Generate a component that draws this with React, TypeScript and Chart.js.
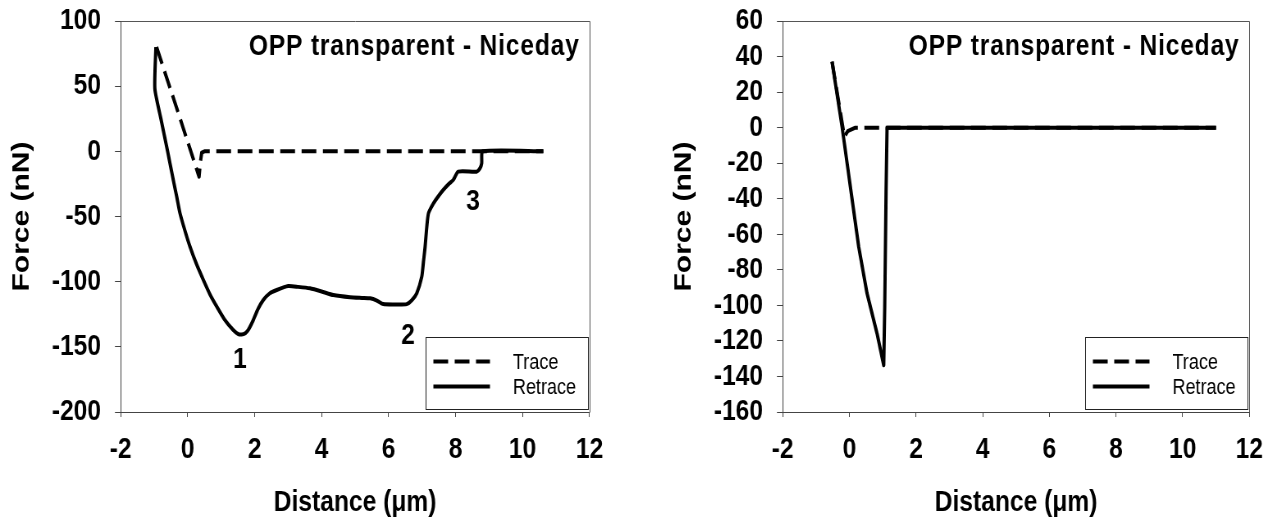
import { useEffect, useRef } from 'react';
import { Chart, registerables } from 'chart.js';

Chart.register(...registerables);

// The figure is laid out on a wider canvas and squeezed horizontally,
// which gives the narrow bold lettering of the printed plots.
const SQUEEZE = 0.82;
const FONT = "'Liberation Sans', Arial, Helvetica, sans-serif";
const HEIGHT = 521;

const PANEL_TITLE = 'OPP transparent - Niceday';
const X_TITLE = 'Distance (\u03bcm)';
const Y_TITLE = 'Force (nN)';
const SERIES_LABELS = ['Trace', 'Retrace'];

// Left panel: approach (trace) and retraction curves with three rupture events
const leftTraceX = [-0.93, -0.3, 0.34, 0.38, 0.42, 0.5, 10.62];
const leftTraceY = [80, 31, -19.5, -8, -1, 0, 0];

const leftRetraceX = [
  -0.95, -0.98, -0.8, -0.6, -0.43, -0.33, -0.23, -0.08, 0.07, 0.27, 0.47, 0.67, 0.87, 1.1,
  1.36, 1.5, 1.61, 1.72, 1.81, 1.95, 2.1, 2.26, 2.45, 2.66, 3.0, 3.3, 3.65, 4.0, 4.35, 4.85,
  5.2, 5.45, 5.65, 5.84, 6.2, 6.54, 6.7, 6.84, 6.99, 7.04, 7.09, 7.14, 7.19, 7.34, 7.5, 7.63,
  7.8, 7.93, 8.08, 8.63, 8.73, 8.78, 8.81, 10.62,
];
const leftRetraceY = [
  80, 48, 25, 0, -22, -34.5, -47.5, -61, -73.2, -87, -98.8, -110, -119.2, -129,
  -137.1, -140, -140.5, -139.5, -137, -130, -121, -114, -109, -106.4, -103.4, -104, -105.1, -107.5, -110.3, -112,
  -112.5, -112.8, -114.5, -117.2, -117.5, -117.2, -114, -109, -96.2, -85, -73.2, -58, -47.6, -39.9, -34, -29.7,
  -25, -22, -15.6, -15.6, -13, -9.2, 0, 0,
];

const leftNoteX = [1.56, 6.58, 8.52];
const leftNoteY = [-160, -141.7, -38.9];
const leftNoteText = ['1', '2', '3'];

const leftYTicks = { min: -200, max: 100, step: 50 };

// Right panel: single adhesion event
const rightTraceX = [-0.52, -0.15, -0.05, 0.18, 11.0];
const rightTraceY = [37.1, -5, -2, 0, 0];

const rightRetraceX = [-0.52, -0.22, 0.03, 0.28, 0.53, 0.83, 1.03, 1.06, 1.1, 1.13, 11.0];
const rightRetraceY = [37.1, 0.5, -33.3, -67.1, -93.3, -115.9, -133.7, -101, -36, 0, 0];

const rightYTicks = { min: -160, max: 60, step: 20 };

const xTicks = { min: -2, max: 12, step: 2 };

const zip = (xs: number[], ys: number[]) => xs.map((x, i) => ({ x, y: ys[i] }));

type Note = { x: number; y: number; text: string };

// Draws the plot frame, the panel caption, numbered event labels and the boxed legend.
const decorPlugin = {
  id: 'panelDecor',
  afterDatasetsDraw(chart: any, _args: any, opts: any) {
    const { ctx, chartArea: a, scales } = chart;
    ctx.save();

    // top and right edges of the plot frame
    ctx.strokeStyle = '#555';
    ctx.lineWidth = 1;
    ctx.beginPath();
    ctx.moveTo(Math.round(a.left) + 0.5, Math.round(a.top) + 0.5);
    ctx.lineTo(Math.round(a.right) + 0.5, Math.round(a.top) + 0.5);
    ctx.lineTo(Math.round(a.right) + 0.5, Math.round(a.bottom) + 0.5);
    ctx.stroke();

    // caption
    ctx.fillStyle = '#000';
    ctx.font = `bold 30px ${FONT}`;
    (ctx as any).letterSpacing = '1px';
    ctx.textAlign = 'right';
    ctx.textBaseline = 'middle';
    ctx.fillText(opts.title, a.right - 12, a.top + 25.5);
    (ctx as any).letterSpacing = '0px';

    // numbered events
    ctx.font = `bold 30px ${FONT}`;
    ctx.textAlign = 'center';
    (opts.notes as Note[]).forEach((n) => {
      ctx.fillText(n.text, scales.x.getPixelForValue(n.x), scales.y.getPixelForValue(n.y));
    });

    // legend
    const w = 198;
    const h = 72;
    const bx = Math.round(a.right - 2 - w) + 0.5;
    const by = Math.round(a.bottom - 3 - h) + 0.5;
    ctx.fillStyle = '#fff';
    ctx.fillRect(bx, by, w, h);
    ctx.strokeStyle = '#222';
    ctx.lineWidth = 1;
    ctx.strokeRect(bx, by, w, h);
    ctx.font = `22px ${FONT}`;
    ctx.textAlign = 'left';
    chart.data.datasets.forEach((ds: any, i: number) => {
      const ly = by + 24 + i * 25;
      ctx.strokeStyle = ds.borderColor;
      ctx.lineWidth = ds.borderWidth;
      ctx.lineCap = 'butt';
      ctx.setLineDash(ds.borderDash || []);
      ctx.beginPath();
      ctx.moveTo(bx + 9, ly);
      ctx.lineTo(bx + 78, ly);
      ctx.stroke();
      ctx.setLineDash([]);
      ctx.fillStyle = '#000';
      ctx.fillText(ds.label, bx + 106, ly + 1);
    });

    ctx.restore();
  },
};

type PanelProps = {
  left: number;
  width: number;
  plotRight: number;
  traceX: number[];
  traceY: number[];
  retraceX: number[];
  retraceY: number[];
  yTicks: { min: number; max: number; step: number };
  notes: Note[];
  smooth: number;
};

function Panel(p: PanelProps) {
  const ref = useRef<HTMLCanvasElement>(null);

  useEffect(() => {
    const canvas = ref.current;
    if (!canvas) return;
    const axisGrid = (len: number) => ({
      drawOnChartArea: false,
      drawTicks: true,
      tickLength: len,
      color: '#444',
      lineWidth: 1,
    });
    const chart = new Chart(canvas, {
      type: 'scatter',
      data: {
        datasets: [
          {
            label: SERIES_LABELS[0],
            data: zip(p.traceX, p.traceY),
            showLine: true,
            borderColor: '#000',
            borderWidth: 4,
            borderDash: [18, 8],
            borderCapStyle: 'butt',
            borderJoinStyle: 'round',
            pointRadius: 0,
            tension: 0,
            order: 1,
          },
          {
            label: SERIES_LABELS[1],
            data: zip(p.retraceX, p.retraceY),
            showLine: true,
            borderColor: '#000',
            borderWidth: 4,
            borderCapStyle: 'butt',
            borderJoinStyle: 'round',
            pointRadius: 0,
            tension: p.smooth,
            order: 0,
          },
        ],
      },
      options: {
        responsive: false,
        animation: false,
        events: [],
        layout: { padding: { left: 0, top: 21, right: p.width - p.plotRight, bottom: 0 } },
        plugins: {
          legend: { display: false },
          tooltip: { enabled: false },
          panelDecor: { title: PANEL_TITLE, notes: p.notes },
        } as any,
        scales: {
          x: {
            type: 'linear',
            min: xTicks.min,
            max: xTicks.max,
            ticks: {
              stepSize: xTicks.step,
              autoSkip: false,
              maxRotation: 0,
              color: '#000',
              padding: 15,
              font: { family: FONT, size: 30, weight: 'bold' },
            },
            grid: axisGrid(5),
            border: { display: true, color: '#444', width: 1 },
            title: {
              display: true,
              text: X_TITLE,
              color: '#000',
              font: { family: FONT, size: 30, weight: 'bold' },
              padding: { top: 0, bottom: 0 },
            },
            afterFit: (s: any) => {
              s.height = 109;
              s.paddingLeft = 0;
              s.paddingRight = 0;
            },
          },
          y: {
            type: 'linear',
            min: p.yTicks.min,
            max: p.yTicks.max,
            ticks: {
              stepSize: p.yTicks.step,
              autoSkip: false,
              color: '#000',
              padding: 17,
              font: { family: FONT, size: 30, weight: 'bold' },
            },
            grid: axisGrid(7),
            border: { display: true, color: '#444', width: 1 },
            title: {
              display: true,
              text: Y_TITLE,
              color: '#000',
              font: { family: FONT, size: 30, weight: 'bold' },
              padding: { top: 9, bottom: 0 },
            },
            afterFit: (s: any) => {
              s.width = 147.2;
              s.paddingTop = 0;
              s.paddingBottom = 0;
            },
          },
        },
      } as any,
      plugins: [decorPlugin],
    });
    return () => chart.destroy();
  }, []);

  return (
    <div
      style={{
        position: 'absolute',
        top: 0,
        left: p.left,
        width: p.width,
        height: HEIGHT,
        transform: `scaleX(${SQUEEZE})`,
        transformOrigin: '0 0',
      }}
    >
      <canvas ref={ref} width={p.width} height={HEIGHT} style={{ display: 'block' }} />
    </div>
  );
}

export default function App() {
  useEffect(() => {
    document.body.style.margin = '0';
    document.body.style.background = '#fff';
  }, []);

  const leftNotes = leftNoteX.map((x, i) => ({ x, y: leftNoteY[i], text: leftNoteText[i] }));

  return (
    <div style={{ position: 'relative', width: 1285, height: HEIGHT, overflow: 'hidden', background: '#fff' }}>
      <Panel
        left={0}
        width={806}
        plotRight={718.9}
        traceX={leftTraceX}
        traceY={leftTraceY}
        retraceX={leftRetraceX}
        retraceY={leftRetraceY}
        yTicks={leftYTicks}
        notes={leftNotes}
        smooth={0.2}
      />
      <Panel
        left={661.6}
        width={760}
        plotRight={716.3}
        traceX={rightTraceX}
        traceY={rightTraceY}
        retraceX={rightRetraceX}
        retraceY={rightRetraceY}
        yTicks={rightYTicks}
        notes={[]}
        smooth={0}
      />
    </div>
  );
}
